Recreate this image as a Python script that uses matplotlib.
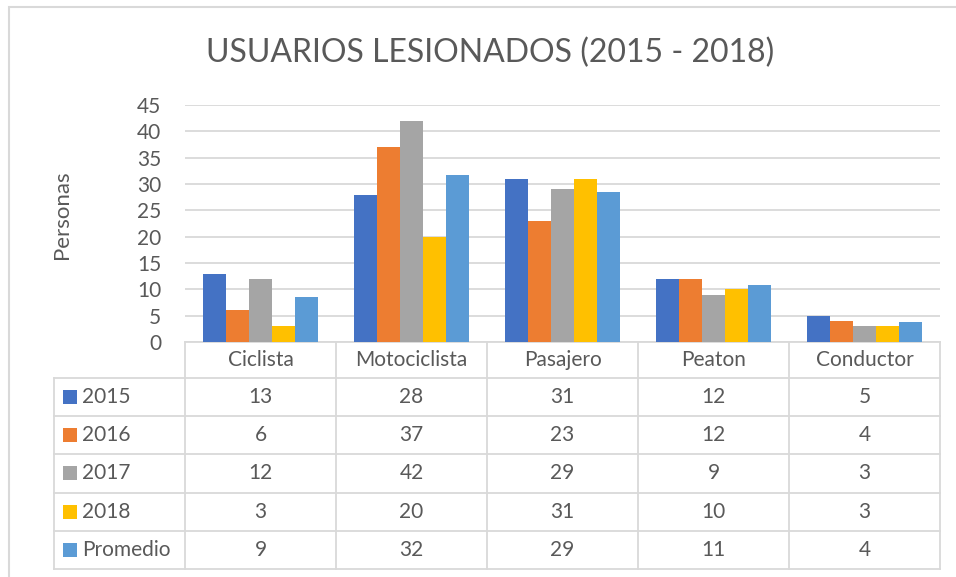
import matplotlib
matplotlib.use("Agg")
import matplotlib.pyplot as plt
from matplotlib.patches import Rectangle
import numpy as np

plt.rcParams['font.family'] = ['Lato', 'DejaVu Sans']

categories = ["Ciclista", "Motociclista", "Pasajero", "Peaton", "Conductor"]
series_names = ["2015", "2016", "2017", "2018", "Promedio"]
v2015 = [13, 28, 31, 12, 5]
v2016 = [6, 37, 23, 12, 4]
v2017 = [12, 42, 29, 9, 3]
v2018 = [3, 20, 31, 10, 3]
promedio = [8.5, 31.75, 28.5, 10.75, 3.75]
table_labels = [
    ["13", "28", "31", "12", "5"],
    ["6", "37", "23", "12", "4"],
    ["12", "42", "29", "9", "3"],
    ["3", "20", "31", "10", "3"],
    ["9", "32", "29", "11", "4"],
]
yticks = [0, 5, 10, 15, 20, 25, 30, 35, 40, 45]
colors = ["#4472C4", "#ED7D31", "#A5A5A5", "#FFC000", "#5B9BD5"]
series = [v2015, v2016, v2017, v2018, promedio]

W, H = 956, 577
TXT = "#595959"
GRID = "#D9D9D9"
FS = 15

fig = plt.figure(figsize=(W / 100, H / 100), dpi=100)
fig.patch.set_facecolor("white")

# outer chart frame
fig.patches.append(Rectangle((9 / W, -0.1), 1.2, 1 - 7 / H + 0.1, transform=fig.transFigure,
                             fill=False, edgecolor=GRID, lw=1.5))

ax_left, ax_right, ax_bot, ax_top = 185, 940, 342, 105
ax = fig.add_axes([ax_left / W, 1 - ax_bot / H, (ax_right - ax_left) / W, (ax_bot - ax_top) / H])
ax.set_xlim(-0.5, len(categories) - 0.5)
ax.set_ylim(0, 45)

x = np.arange(len(categories))
bw = 0.153
for j, (vals, c) in enumerate(zip(series, colors)):
    ax.bar(x + (j - 2) * bw, vals, width=bw, color=c, zorder=3)

ax.set_yticks(yticks)
ax.yaxis.grid(True, color=GRID, lw=1.3, zorder=0)
ax.set_axisbelow(True)
ax.set_xticks([])
ax.tick_params(axis='y', length=0, labelsize=FS, labelcolor=TXT, pad=17)
for s in ["top", "right", "left"]:
    ax.spines[s].set_visible(False)
ax.spines["bottom"].set_color(GRID)
ax.spines["bottom"].set_linewidth(1.3)

ax.set_ylabel("Personas", fontsize=16, color=TXT, va="center")
ax.yaxis.set_label_coords((62 - ax_left) / (ax_right - ax_left), (ax_bot - 215) / (ax_bot - ax_top))

fig.text(490 / W, 1 - 53 / H, "USUARIOS LESIONADOS (2015 - 2018)", ha="center", va="center",
         fontsize=23, color=TXT)

# data table below the axes
axh = ax_bot - ax_top
def yf(px):
    return (ax_bot - px) / axh
def xd(px):
    return -0.5 + (px - ax_left) / (ax_right - ax_left) * len(categories)

tr = ax.get_xaxis_transform()
row_edges = [342, 378, 416, 454, 492.5, 530.5, 568.5]
leg_left = 54
lkw = dict(color=GRID, lw=1.3, transform=tr, clip_on=False)
for r in row_edges[1:]:
    ax.plot([xd(leg_left), 4.5], [yf(r), yf(r)], **lkw)
ax.plot([xd(leg_left), xd(leg_left)], [yf(row_edges[1]), yf(row_edges[-1])], **lkw)
for b in np.arange(-0.5, len(categories) + 0.5, 1.0):
    ax.plot([b, b], [yf(row_edges[0]), yf(row_edges[-1])], **lkw)

hy = yf((row_edges[0] + row_edges[1]) / 2)
for i, cat in enumerate(categories):
    ax.text(i, hy, cat, ha="center", va="center", fontsize=FS, color=TXT, transform=tr, clip_on=False)

for r, name in enumerate(series_names):
    cy = yf((row_edges[r + 1] + row_edges[r + 2]) / 2)
    sq = 14
    ax.add_patch(Rectangle((xd(63), cy - (sq / 2) / axh), xd(63 + sq) - xd(63), sq / axh,
                           transform=tr, clip_on=False, color=colors[r], lw=0))
    ax.text(xd(82), cy, name, ha="left", va="center", fontsize=FS, color=TXT, transform=tr, clip_on=False)
    for i in range(len(categories)):
        ax.text(i, cy, table_labels[r][i], ha="center", va="center", fontsize=FS, color=TXT,
                transform=tr, clip_on=False)

fig.savefig("out.png", dpi=100)
